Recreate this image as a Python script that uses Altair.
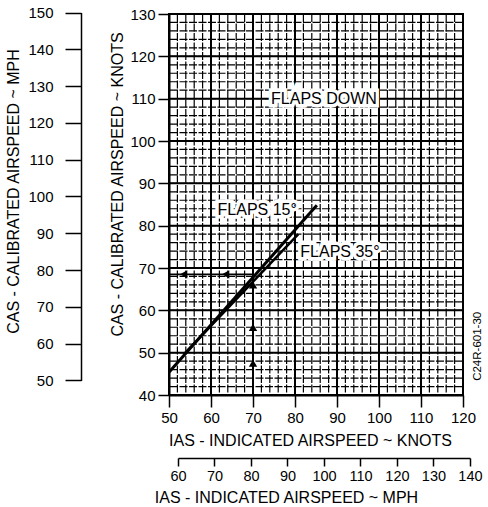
import altair as alt
import pandas as pd

# ---------------- data ----------------
ias_ticks = [50, 60, 70, 80, 90, 100, 110, 120]          # knots
cas_ticks = [40, 50, 60, 70, 80, 90, 100, 110, 120, 130]  # knots
cas_mph_ticks = [50, 60, 70, 80, 90, 100, 110, 120, 130, 140, 150]
ias_mph_ticks = [60, 70, 80, 90, 100, 110, 120, 130, 140]
minor_ias = list(range(50, 121, 2))
minor_cas = list(range(40, 131, 2))

flaps15_ias = [50.0, 85.2]
flaps15_cas = [45.4, 84.8]
flaps35_ias = [53.5, 80.8]
flaps35_cas = [49.6, 78.0]

example_ias = [70.0, 70.0]
example_cas_v = [40.0, 66.0]
example_ias_h = [50.0, 70.0]
example_cas = [68.5, 68.5]
arrow_up_cas = [47.5, 56.0, 66.0]
arrow_left_ias = [53.5, 63.5]

label_text = ["FLAPS DOWN", "FLAPS 15°", "FLAPS 35°"]
label_ias = [86.9, 71.0, 90.7]
label_cas = [110.0, 83.7, 73.8]

code_text = ["C24R-601-30"]
code_ias = [123.6]
code_cas = [51.5]

KT_PER_MPH = 0.868976
W, H = 294, 381
FONT = "Liberation Sans"

IAS_MIN, IAS_MAX = 50, 120
CAS_MIN, CAS_MAX = 40, 130

def kx(k):
    return W * (k - IAS_MIN) / (IAS_MAX - IAS_MIN)

def ky(k):
    return H * (CAS_MAX - k) / (CAS_MAX - CAS_MIN)

# ---------------- scales & axes ----------------
def xs():
    return alt.Scale(domain=[IAS_MIN, IAS_MAX], range=[0, W], nice=False, zero=False)

def ys():
    return alt.Scale(domain=[CAS_MIN, CAS_MAX], range=[H, 0], nice=False, zero=False)

x_axis = alt.Axis(orient="bottom", values=ias_ticks, grid=False, tickSize=12,
                  tickWidth=1.5, domainWidth=2, labelPadding=3, labelFontSize=15,
                  labelOverlap=False, labelFlush=False,
                  title="IAS - INDICATED AIRSPEED ~ KNOTS", titleFontSize=16,
                  titleX=141, titleY=45, titleBaseline="middle", titleAlign="center")
y_axis = alt.Axis(orient="left", values=cas_ticks, grid=False, tickSize=11,
                  tickWidth=1.5, domainWidth=2, labelPadding=3, labelFontSize=15,
                  labelOverlap=False, labelFlush=False,
                  title="CAS - CALIBRATED AIRSPEED ~ KNOTS", titleFontSize=16,
                  titleX=-52, titleY=170, titleAngle=270, titleBaseline="middle",
                  titleAlign="center")

def X(field, axis=None):
    return alt.X(field, scale=xs(), axis=axis)

def Y(field, axis=None):
    return alt.Y(field, scale=ys(), axis=axis)

# ---------------- knots layers ----------------
minor_v = alt.Chart(pd.DataFrame({"v": minor_ias})).mark_rule(
    color="black", strokeWidth=1.2, strokeDash=[8, 1.5]).encode(x=X("v:Q"))
minor_h = alt.Chart(pd.DataFrame({"v": minor_cas})).mark_rule(
    color="black", strokeWidth=1.2, strokeDash=[8, 1.5]).encode(y=Y("v:Q"))
major_v = alt.Chart(pd.DataFrame({"v": ias_ticks})).mark_rule(
    color="black", strokeWidth=2).encode(x=X("v:Q"))
major_h = alt.Chart(pd.DataFrame({"v": cas_ticks})).mark_rule(
    color="black", strokeWidth=2).encode(y=Y("v:Q"))

f15 = alt.Chart(pd.DataFrame({"ias": flaps15_ias, "cas": flaps15_cas})).mark_line(
    color="black", strokeWidth=3).encode(
    x=X("ias:Q", x_axis), y=Y("cas:Q", y_axis))
f35 = alt.Chart(pd.DataFrame({"ias": flaps35_ias, "cas": flaps35_cas})).mark_line(
    color="black", strokeWidth=2.5).encode(x=X("ias:Q"), y=Y("cas:Q"))

ex_v = alt.Chart(pd.DataFrame({"ias": example_ias, "cas": example_cas_v})).mark_line(
    color="black", strokeWidth=1.8).encode(x=X("ias:Q"), y=Y("cas:Q"))
ex_h = alt.Chart(pd.DataFrame({"ias": example_ias_h, "cas": example_cas})).mark_line(
    color="black", strokeWidth=1.8).encode(x=X("ias:Q"), y=Y("cas:Q"))

up_heads = alt.Chart(pd.DataFrame({"ias": [example_ias[0]] * len(arrow_up_cas),
                                   "cas": arrow_up_cas})).mark_point(
    shape="triangle-up", filled=True, color="black", size=70, opacity=1).encode(
    x=X("ias:Q"), y=Y("cas:Q"))
left_heads = alt.Chart(pd.DataFrame({"ias": arrow_left_ias,
                                     "cas": [example_cas[0]] * len(arrow_left_ias)})).mark_point(
    shape="triangle-left", filled=True, color="black", size=70, opacity=1).encode(
    x=X("ias:Q"), y=Y("cas:Q"))

lab_df = pd.DataFrame({"t": label_text, "ias": label_ias, "cas": label_cas})
lab_halo = alt.Chart(lab_df).mark_text(
    font=FONT, fontSize=16, color="white", stroke="white", strokeWidth=7,
    align="center", baseline="middle").encode(
    x=X("ias:Q"), y=Y("cas:Q"), text="t:N")
lab_txt = alt.Chart(lab_df).mark_text(
    font=FONT, fontSize=16, color="black", align="center", baseline="middle").encode(
    x=X("ias:Q"), y=Y("cas:Q"), text="t:N")

code = alt.Chart(pd.DataFrame({"t": code_text, "ias": code_ias, "cas": code_cas})).mark_text(
    font=FONT, fontSize=11.5, color="black", angle=270, align="center",
    baseline="middle", clip=False).encode(
    x=X("ias:Q"), y=Y("cas:Q"), text="t:N")

# ---------------- mph axes ----------------
mph_y_range = [ky(cas_mph_ticks[0] * KT_PER_MPH), ky(cas_mph_ticks[-1] * KT_PER_MPH)]
mph_x_range = [kx(ias_mph_ticks[0] * KT_PER_MPH), kx(ias_mph_ticks[-1] * KT_PER_MPH)]

mph_df = pd.DataFrame({"m_ias": [ias_mph_ticks[0], ias_mph_ticks[-1]],
                       "m_cas": [cas_mph_ticks[0], cas_mph_ticks[-1]]})
mph = alt.Chart(mph_df).mark_point(opacity=0).encode(
    x=alt.X("m_ias:Q",
            scale=alt.Scale(domain=[ias_mph_ticks[0], ias_mph_ticks[-1]],
                            range=mph_x_range, nice=False, zero=False),
            axis=alt.Axis(orient="bottom", offset=63, values=ias_mph_ticks,
                          grid=False, tickSize=8, tickWidth=1.5, domainWidth=1.5,
                          labelPadding=3, labelFontSize=14.5, labelOverlap=False,
                          labelBound=False, labelFlush=False,
                          title="IAS - INDICATED AIRSPEED ~ MPH",
                          titleFontSize=16, titleX=117, titleY=39,
                          titleBaseline="middle", titleAlign="center")),
    y=alt.Y("m_cas:Q",
            scale=alt.Scale(domain=[cas_mph_ticks[0], cas_mph_ticks[-1]],
                            range=mph_y_range, nice=False, zero=False),
            axis=alt.Axis(orient="left", offset=88, values=cas_mph_ticks,
                          grid=False, tickSize=16, tickWidth=1.5, domainWidth=1.5,
                          labelPadding=12, labelFontSize=15, labelOverlap=False,
                          labelFlush=False,
                          title="CAS - CALIBRATED AIRSPEED ~ MPH",
                          titleFontSize=16, titleX=-68, titleY=177,
                          titleAngle=270, titleBaseline="middle",
                          titleAlign="center")),
)

chart = alt.layer(
    minor_v, minor_h, major_v, major_h, ex_v, ex_h, up_heads, left_heads,
    f15, f35, lab_halo, lab_txt, code, mph
).resolve_scale(
    x="independent", y="independent"
).properties(
    width=W, height=H,
    autosize=alt.AutoSizeParams(type="none"),
    padding={"left": 169, "top": 14, "right": 488 - 169 - W, "bottom": 507 - 14 - H},
    background="white",
).configure_view(
    stroke="black", strokeWidth=2
).configure_axis(
    labelFont=FONT, titleFont=FONT, labelColor="black", titleColor="black",
    domainColor="black", tickColor="black", titleFontWeight="normal",
)

chart.save("out.html", embed_options={"renderer": "svg", "actions": False})
